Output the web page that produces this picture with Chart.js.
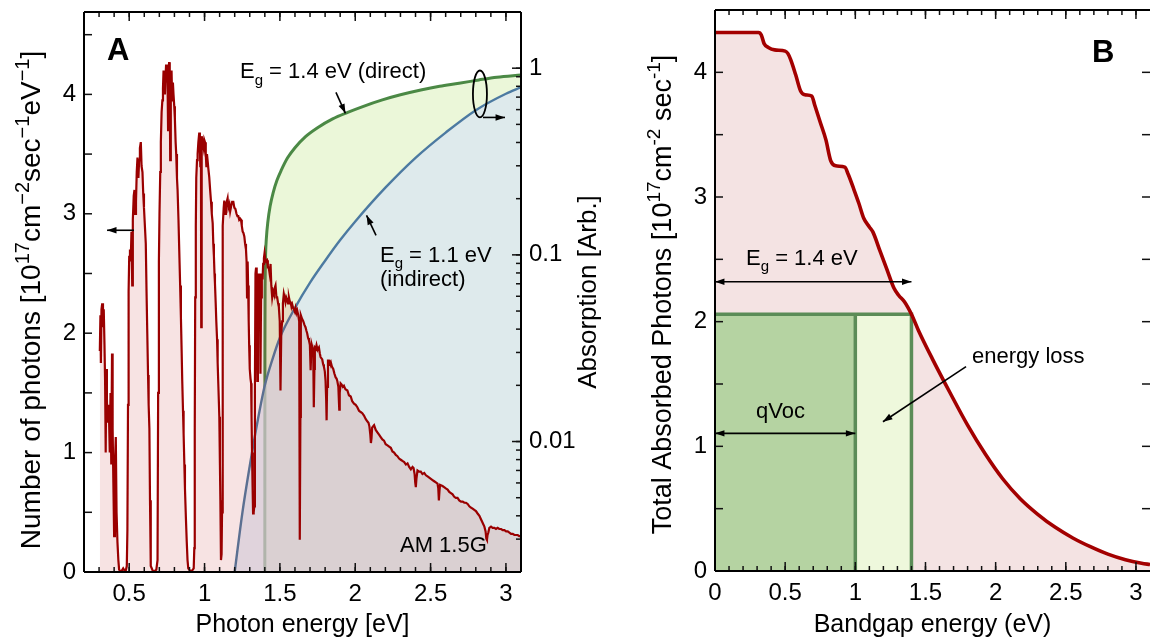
<!DOCTYPE html>
<html>
<head>
<meta charset="utf-8">
<script src="https://cdn.jsdelivr.net/npm/chart.js@4/dist/chart.umd.min.js"></script>
<style>
  html, body { margin: 0; padding: 0; background: #fff; }
  #wrap { position: relative; width: 1150px; height: 641px; overflow: hidden; }
  #wrap canvas { position: absolute; top: 0; }
  #panel-a { left: 0; width: 620px; height: 641px; }
  #panel-b { left: 620px; width: 530px; height: 641px; }
</style>
</head>
<body>
<div id="wrap">
  <canvas id="panel-a" width="620" height="641"></canvas>
  <canvas id="panel-b" width="530" height="641"></canvas>
</div>
<script>
var FONT = "'Liberation Sans', Arial, Helvetica, sans-serif";

// AM 1.5G photon flux [1e17 cm^-2 s^-1 eV^-1] against photon energy [eV]
var spectrum = [
  [0.305,1.85],[0.309,2.15],[0.312,1.75],[0.316,2.2],[0.321,2.25],[0.326,2.05],[0.331,2.2],[0.336,1.9],
  [0.340,1.6],[0.344,1.0],[0.348,1.7],[0.352,1.45],[0.356,1.25],[0.361,1.4],[0.366,1.3],[0.371,1.0],
  [0.376,1.5],[0.381,0.9],[0.386,1.83],[0.390,1.2],[0.395,0.74],[0.400,0.3],[0.405,0.9],[0.411,1.13],
  [0.416,0.5],[0.422,0.25],[0.428,0.1],[0.433,0.02],[0.445,0.0],[0.460,0.03],[0.475,0.0],[0.484,0.05],
  [0.488,0.35],[0.492,1.4],[0.496,2.35],[0.500,2.64],[0.505,2.7],[0.510,2.6],[0.515,2.85],[0.520,2.4],
  [0.524,2.95],[0.530,3.15],[0.535,3.2],[0.540,3.0],[0.545,3.1],[0.550,3.35],[0.555,3.47],[0.561,3.3],
  [0.566,3.45],[0.571,3.55],[0.577,3.6],[0.582,3.4],[0.588,3.35],[0.593,3.17],[0.598,3.05],[0.604,2.9],
  [0.610,2.75],[0.615,2.35],[0.620,2.0],[0.625,1.65],[0.629,1.4],[0.634,1.2],[0.638,0.6],[0.643,0.05],
  [0.660,0.0],[0.680,0.02],[0.688,0.1],[0.692,1.5],[0.697,2.6],[0.701,3.0],[0.706,3.35],[0.710,3.6],
  [0.715,3.85],[0.720,3.95],[0.724,4.05],[0.728,4.2],[0.733,4.05],[0.737,4.0],[0.741,4.15],[0.745,4.25],
  [0.750,4.1],[0.754,4.18],[0.758,3.7],[0.762,4.2],[0.765,4.27],[0.769,4.15],[0.772,3.45],[0.776,4.1],
  [0.781,4.2],[0.785,3.95],[0.790,4.1],[0.794,4.0],[0.799,3.9],[0.803,3.8],[0.808,3.6],[0.812,3.5],
  [0.817,3.3],[0.821,3.2],[0.827,2.95],[0.832,2.7],[0.838,2.4],[0.843,2.14],[0.848,1.85],[0.852,1.6],
  [0.857,1.35],[0.861,1.16],[0.866,0.9],[0.870,0.7],[0.876,0.46],[0.882,0.25],[0.887,0.1],[0.892,0.03],
  [0.910,0.0],[0.928,0.03],[0.932,0.2],[0.935,1.2],[0.938,2.3],[0.942,2.9],[0.945,3.3],[0.950,3.45],
  [0.954,3.5],[0.959,3.6],[0.965,3.68],[0.969,3.55],[0.972,3.4],[0.976,3.6],[0.978,2.05],[0.981,3.65],
  [0.987,3.6],[0.994,3.55],[0.998,3.62],[1.003,3.6],[1.008,3.5],[1.012,3.4],[1.016,3.5],[1.020,3.45],
  [1.025,3.38],[1.031,3.31],[1.037,3.2],[1.043,3.1],[1.048,3.0],[1.054,2.92],[1.058,2.75],[1.062,2.65],
  [1.066,2.5],[1.069,2.42],[1.074,2.25],[1.078,2.1],[1.083,1.95],[1.087,1.75],[1.092,1.55],[1.098,1.3],
  [1.102,0.9],[1.105,0.6],[1.109,0.1],[1.113,0.15],[1.116,0.5],[1.119,1.9],[1.122,2.9],[1.127,3.05],
  [1.131,3.11],[1.136,3.0],[1.142,3.05],[1.147,3.1],[1.153,3.13],[1.158,3.05],[1.165,3.08],[1.170,3.02],
  [1.176,3.06],[1.183,3.1],[1.191,3.1],[1.198,3.05],[1.205,3.04],[1.212,3.0],[1.218,2.98],[1.224,2.98],
  [1.230,2.95],[1.236,2.96],[1.242,2.95],[1.247,2.9],[1.253,2.85],[1.258,2.84],[1.264,2.81],[1.269,2.75],
  [1.275,2.7],[1.279,2.6],[1.282,2.3],[1.286,2.6],[1.289,2.4],[1.293,2.1],[1.296,1.9],[1.300,1.7],
  [1.305,1.62],[1.309,1.58],[1.312,1.3],[1.315,1.0],[1.319,0.7],[1.322,0.49],[1.326,0.5],[1.330,0.55],
  [1.334,1.5],[1.338,2.5],[1.342,2.55],[1.346,2.3],[1.350,1.6],[1.354,2.2],[1.358,2.5],[1.362,2.45],
  [1.366,2.5],[1.371,1.66],[1.375,2.3],[1.380,2.5],[1.385,2.45],[1.389,2.58],[1.394,2.63],[1.398,2.67],
  [1.403,2.62],[1.408,2.6],[1.415,2.61],[1.420,2.55],[1.426,2.55],[1.432,2.5],[1.438,2.58],[1.443,2.4],
  [1.449,2.3],[1.455,2.35],[1.460,2.33],[1.466,2.38],[1.471,2.4],[1.477,2.3],[1.482,2.3],[1.488,2.25],
  [1.493,2.22],[1.499,2.1],[1.504,1.52],[1.509,2.0],[1.515,2.1],[1.520,2.25],[1.526,2.33],[1.531,2.3],
  [1.537,2.26],[1.542,2.3],[1.548,2.28],[1.554,2.25],[1.560,2.3],[1.565,2.27],[1.571,2.26],[1.577,2.22],
  [1.582,2.24],[1.588,2.21],[1.593,2.2],[1.599,2.18],[1.604,2.21],[1.610,2.17],[1.615,2.19],[1.622,2.15],
  [1.628,2.1],[1.631,1.2],[1.633,0.27],[1.636,1.3],[1.639,2.15],[1.647,2.12],[1.655,2.1],[1.663,2.07],
  [1.670,2.05],[1.676,2.02],[1.681,2.0],[1.687,1.96],[1.693,1.94],[1.699,1.9],[1.704,1.69],[1.708,1.85],
  [1.712,1.9],[1.716,1.88],[1.721,1.87],[1.724,1.6],[1.726,1.38],[1.729,1.7],[1.732,1.88],[1.738,1.87],
  [1.743,1.9],[1.750,1.86],[1.759,1.88],[1.765,1.83],[1.770,1.8],[1.776,1.79],[1.781,1.78],[1.787,1.74],
  [1.792,1.72],[1.798,1.68],[1.803,1.6],[1.807,1.45],[1.810,1.27],[1.813,1.55],[1.819,1.77],[1.826,1.77],
  [1.832,1.75],[1.837,1.76],[1.845,1.72],[1.854,1.7],[1.862,1.66],[1.870,1.63],[1.876,1.62],[1.881,1.6],
  [1.888,1.55],[1.891,1.45],[1.894,1.36],[1.897,1.5],[1.903,1.58],[1.910,1.57],[1.918,1.55],[1.925,1.56],
  [1.935,1.53],[1.948,1.52],[1.958,1.48],[1.970,1.47],[1.980,1.43],[1.992,1.41],[2.003,1.40],[2.014,1.38],
  [2.025,1.35],[2.036,1.34],[2.047,1.33],[2.058,1.31],[2.070,1.28],[2.081,1.26],[2.088,1.25],[2.094,1.22],
  [2.100,1.15],[2.104,1.08],[2.108,1.12],[2.112,1.21],[2.118,1.22],[2.125,1.23],[2.136,1.19],[2.147,1.17],
  [2.158,1.15],[2.169,1.13],[2.180,1.11],[2.191,1.1],[2.202,1.07],[2.214,1.06],[2.225,1.05],[2.236,1.04],
  [2.247,1.01],[2.258,1.0],[2.269,0.98],[2.280,0.97],[2.291,0.95],[2.302,0.94],[2.313,0.93],[2.325,0.92],
  [2.336,0.90],[2.347,0.91],[2.358,0.88],[2.369,0.86],[2.380,0.88],[2.387,0.87],[2.394,0.82],[2.398,0.75],
  [2.402,0.71],[2.406,0.78],[2.413,0.85],[2.424,0.84],[2.435,0.84],[2.446,0.82],[2.458,0.83],[2.469,0.81],
  [2.480,0.80],[2.491,0.79],[2.502,0.78],[2.513,0.77],[2.524,0.76],[2.535,0.75],[2.546,0.74],[2.551,0.7],
  [2.555,0.6],[2.559,0.68],[2.563,0.73],[2.568,0.73],[2.579,0.72],[2.590,0.71],[2.601,0.70],[2.613,0.69],
  [2.624,0.67],[2.635,0.66],[2.646,0.65],[2.657,0.63],[2.668,0.62],[2.679,0.62],[2.690,0.60],[2.702,0.59],
  [2.713,0.59],[2.724,0.58],[2.735,0.58],[2.746,0.57],[2.757,0.55],[2.768,0.54],[2.779,0.53],[2.790,0.52],
  [2.801,0.51],[2.812,0.49],[2.824,0.47],[2.835,0.44],[2.846,0.41],[2.857,0.38],[2.865,0.34],[2.870,0.28],
  [2.874,0.27],[2.878,0.31],[2.883,0.33],[2.890,0.37],[2.901,0.38],[2.912,0.37],[2.923,0.37],[2.934,0.36],
  [2.945,0.37],[2.956,0.36],[2.968,0.36],[2.979,0.35],[2.990,0.35],[3.001,0.34],[3.012,0.34],[3.023,0.33],
  [3.034,0.32],[3.045,0.32],[3.056,0.31],[3.067,0.31],[3.078,0.31],[3.089,0.30],[3.100,0.30]
];

// absorption (arb., right log axis) of a direct 1.4 eV and an indirect 1.1 eV absorber
var directAbs = [
  [1.4,0.002],[1.4005,0.03],[1.402,0.07],[1.405,0.1],[1.41,0.122],[1.42,0.15],[1.435,0.182],[1.455,0.215],
  [1.48,0.25],[1.51,0.285],[1.55,0.33],[1.6,0.375],[1.67,0.43],[1.75,0.48],[1.85,0.535],[1.95,0.58],
  [2.05,0.623],[2.18,0.676],[2.3,0.72],[2.435,0.764],[2.56,0.8],[2.689,0.83],[2.82,0.865],[2.94,0.895],
  [3.1,0.92]
];
var indirectAbs = [
  [1.2,0.002],[1.25,0.0041],[1.3,0.0074],[1.35,0.0126],[1.4,0.02],[1.45,0.0275],[1.5,0.036],[1.6,0.052],
  [1.7,0.071],[1.8,0.093],[1.9,0.12],[2.0,0.151],[2.2,0.229],[2.4,0.331],[2.6,0.452],[2.8,0.596],
  [3.0,0.73],[3.1,0.79]
];

// total absorbed photons [1e17 cm^-2 s^-1] against bandgap energy [eV]
var absorbed = [
  [0,4.32],[0.31,4.32],[0.33,4.3],[0.35,4.23],[0.38,4.2],[0.425,4.18],[0.5,4.17],[0.52,4.15],[0.54,4.1],
  [0.575,3.98],[0.61,3.85],[0.64,3.82],[0.69,3.81],[0.71,3.74],[0.75,3.6],[0.79,3.46],[0.825,3.29],
  [0.86,3.25],[0.925,3.24],[0.95,3.18],[0.99,3.06],[1.025,2.95],[1.06,2.83],[1.1,2.76],[1.125,2.72],
  [1.175,2.57],[1.225,2.42],[1.275,2.27],[1.31,2.21],[1.35,2.16],[1.4,2.06],[1.45,1.93],[1.55,1.7],
  [1.675,1.43],[1.8,1.17],[1.925,0.94],[2.05,0.74],[2.175,0.58],[2.3,0.455],[2.425,0.35],[2.55,0.265],
  [2.675,0.195],[2.8,0.135],[2.925,0.09],[3.04,0.062],[3.1,0.052]
];

// 1.4 eV cell: photons collected, split into qVoc and energy loss
var cellEg = 1.4, cellVoc = 1.0, cellPhotons = 2.06;

// tick labels
var photonTicks = [0.5, 1, 1.5, 2, 2.5, 3];
var fluxTicks = [0, 1, 2, 3, 4];
var absTicks = [0.01, 0.1, 1];
var gapTicks = [0, 0.5, 1, 1.5, 2, 2.5, 3];
var totalTicks = [0, 1, 2, 3, 4];

Chart.defaults.font.family = FONT;
Chart.defaults.color = '#000';

function toXY(pairs) {
  return pairs.map(function (p) { return { x: p[0], y: p[1] }; });
}

function steps(from, to, step) {
  var out = [];
  for (var i = Math.ceil(from / step - 1e-6); i * step <= to + 1e-6; i++) {
    out.push(Math.round(i * step * 1000) / 1000);
  }
  return out;
}

function logSteps(min, max) {
  var out = [];
  for (var d = 0.001; d <= max; d *= 10) {
    for (var m = 1; m < 10; m++) {
      var v = m * d;
      if (v >= min * 0.999 && v <= max * 1.001) out.push(v);
    }
  }
  return out;
}

// axis with fixed labels and a fixed box size so both panels line up
function axis(extra, labels, size) {
  var horizontal = extra.position === 'bottom';
  return Object.assign({
    grid: { display: false, drawTicks: false },
    border: { display: false },
    ticks: { font: { size: 24 }, color: '#000', padding: 8, maxRotation: 0, autoSkip: false,
      callback: function (v) { return String(v); } },
    afterBuildTicks: function (s) { s.ticks = labels.map(function (v) { return { value: v }; }); },
    afterFit: function (s) {
      if (horizontal) s.height = size; else s.width = size;
      // labels may overhang the plot edges, keep the plot box where it is
      s.paddingTop = s.paddingBottom = s.paddingLeft = s.paddingRight = 0;
    }
  }, extra);
}

// frame and inward tick marks
function frame(sides, marks) {
  return {
    id: 'frame',
    afterDatasetsDraw: function (chart) {
      var ctx = chart.ctx, a = chart.chartArea;
      ctx.save();
      ctx.strokeStyle = '#111';
      ctx.lineWidth = 1.5;
      marks.forEach(function (m) {
        var s = chart.scales[m.axis];
        m.values.forEach(function (v) {
          var p = s.getPixelForValue(v);
          m.sides.forEach(function (side) {
            ctx.beginPath();
            if (side === 'bottom' || side === 'top') {
              if (p < a.left + 1 || p > a.right - 1) return;
              var y0 = side === 'bottom' ? a.bottom : a.top;
              ctx.moveTo(p, y0);
              ctx.lineTo(p, side === 'bottom' ? y0 - m.len : y0 + m.len);
            } else {
              if (p < a.top + 1 || p > a.bottom - 1) return;
              var x0 = side === 'left' ? a.left : a.right;
              ctx.moveTo(x0, p);
              ctx.lineTo(side === 'left' ? x0 + m.len : x0 - m.len, p);
            }
            ctx.stroke();
          });
        });
      });
      ctx.lineWidth = 2;
      ctx.strokeStyle = '#000';
      ctx.beginPath();
      if (sides.indexOf('left') > -1) { ctx.moveTo(a.left, a.top); ctx.lineTo(a.left, a.bottom); }
      if (sides.indexOf('bottom') > -1) { ctx.moveTo(a.left, a.bottom); ctx.lineTo(a.right, a.bottom); }
      if (sides.indexOf('top') > -1) { ctx.moveTo(a.left, a.top); ctx.lineTo(a.right, a.top); }
      if (sides.indexOf('right') > -1) { ctx.moveTo(a.right, a.top); ctx.lineTo(a.right, a.bottom); }
      ctx.stroke();
      ctx.restore();
    }
  };
}

// text with sub/superscript pieces: [[text], [text, 'sub'|'sup'], ...]
function richText(ctx, parts, x, y, size, align) {
  var small = Math.round(size * 0.7), widths = [], total = 0;
  parts.forEach(function (p) {
    ctx.font = (p[1] ? small : size) + 'px ' + FONT;
    var w = ctx.measureText(p[0]).width;
    widths.push(w);
    total += w;
  });
  var cx = align === 'center' ? x - total / 2 : x;
  ctx.textAlign = 'left';
  ctx.textBaseline = 'alphabetic';
  parts.forEach(function (p, i) {
    ctx.font = (p[1] ? small : size) + 'px ' + FONT;
    var dy = p[1] === 'sup' ? -size * 0.4 : (p[1] === 'sub' ? size * 0.28 : 0);
    ctx.fillText(p[0], cx, y + dy);
    cx += widths[i];
  });
}

function verticalText(ctx, parts, x, y, size) {
  ctx.save();
  ctx.translate(x, y);
  ctx.rotate(-Math.PI / 2);
  richText(ctx, parts, 0, 0, size, 'center');
  ctx.restore();
}

function arrow(ctx, x1, y1, x2, y2, both) {
  var head = 10, spread = 0.33, ang = Math.atan2(y2 - y1, x2 - x1);
  function tip(x, y, a) {
    ctx.beginPath();
    ctx.moveTo(x, y);
    ctx.lineTo(x - head * Math.cos(a - spread), y - head * Math.sin(a - spread));
    ctx.lineTo(x - head * Math.cos(a + spread), y - head * Math.sin(a + spread));
    ctx.closePath();
    ctx.fill();
  }
  ctx.lineWidth = 1.6;
  ctx.beginPath();
  ctx.moveTo(x1, y1);
  ctx.lineTo(x2, y2);
  ctx.stroke();
  tip(x2, y2, ang);
  if (both) tip(x1, y1, ang + Math.PI);
}

var noLine = { borderColor: 'rgba(0,0,0,0)', borderWidth: 0 };

// panel A: AM 1.5G spectrum and absorption edges
new Chart(document.getElementById('panel-a'), {
  type: 'line',
  data: {
    datasets: [{
      label: 'AM 1.5G',
      data: toXY(spectrum),
      yAxisID: 'y',
      borderColor: '#9a0000',
      borderWidth: 2.2,
      backgroundColor: 'rgba(190, 40, 40, 0.13)',
      fill: 'start',
      order: 0
    }, {
      label: 'indirect',
      data: toXY(indirectAbs),
      yAxisID: 'yAbs',
      borderColor: '#4c7aa1',
      borderWidth: 2.4,
      backgroundColor: 'rgba(216, 228, 244, 0.7)',
      fill: 'start',
      cubicInterpolationMode: 'monotone',
      order: 1
    }, {
      label: 'direct',
      data: toXY(directAbs),
      yAxisID: 'yAbs',
      borderColor: '#4b8945',
      borderWidth: 3,
      backgroundColor: '#ebf7d9',
      fill: 'start',
      cubicInterpolationMode: 'monotone',
      order: 2
    }]
  },
  options: {
    responsive: false,
    animation: false,
    devicePixelRatio: 1,
    layout: { autoPadding: false, padding: { top: 12, left: 0, right: 0, bottom: 0 } },
    elements: { point: { radius: 0 }, line: { tension: 0 } },
    plugins: { legend: { display: false }, tooltip: { enabled: false } },
    scales: {
      x: axis({ type: 'linear', position: 'bottom', min: 0.2, max: 3.1 }, photonTicks, 69),
      y: axis({ type: 'linear', position: 'left', min: 0, max: 4.69 }, fluxTicks, 84),
      yAbs: axis({ type: 'logarithmic', position: 'right', min: 0.002, max: 2 }, absTicks, 99)
    }
  },
  plugins: [frame(['left', 'right', 'top', 'bottom'], [
    { axis: 'x', sides: ['bottom', 'top'], values: steps(0.2, 3.1, 0.1), len: 5 },
    { axis: 'x', sides: ['bottom', 'top'], values: steps(0.5, 3, 0.5), len: 9 },
    { axis: 'y', sides: ['left'], values: steps(0, 4.5, 0.5), len: 8 },
    { axis: 'yAbs', sides: ['right'], values: logSteps(0.002, 2), len: 5 },
    { axis: 'yAbs', sides: ['right'], values: absTicks, len: 9 }
  ]), {
    id: 'notesA',
    afterDraw: function (chart) {
      var ctx = chart.ctx, a = chart.chartArea, sx = chart.scales.x, sy = chart.scales.y;
      function X(e) { return sx.getPixelForValue(e); }
      function Y(v) { return sy.getPixelForValue(v); }
      ctx.save();
      ctx.fillStyle = '#000';
      ctx.strokeStyle = '#000';
      ctx.font = 'bold 31px ' + FONT;
      ctx.textAlign = 'left';
      ctx.fillText('A', X(0.353), Y(4.285));
      richText(ctx, [['E'], ['g', 'sub'], [' = 1.4 eV (direct)']], X(1.235), Y(4.134), 22);
      arrow(ctx, X(1.872), Y(4.017), X(1.935), Y(3.841));
      richText(ctx, [['E'], ['g', 'sub'], [' = 1.1 eV']], X(2.164), Y(2.594), 22);
      richText(ctx, [['(indirect)']], X(2.164), Y(2.393), 22);
      arrow(ctx, X(2.138), Y(2.82), X(2.075), Y(2.987));
      richText(ctx, [['AM 1.5G']], X(2.297), Y(0.167), 22);
      // left arrow points at the photon axis
      arrow(ctx, X(0.532), Y(2.862), X(0.353), Y(2.862));
      // ring round the absorption curves, arrow to the right axis
      ctx.lineWidth = 1.8;
      ctx.beginPath();
      ctx.ellipse((X(2.781) + X(2.874)) / 2, (Y(4.2) + Y(3.807)) / 2,
        (X(2.874) - X(2.781)) / 2, (Y(3.807) - Y(4.2)) / 2, 0, 0, 2 * Math.PI);
      ctx.stroke();
      arrow(ctx, X(2.848), Y(3.807), X(2.994), Y(3.807));
      // axis titles
      richText(ctx, [['Photon energy [eV]']], (a.left + a.right) / 2, a.bottom + 60, 25, 'center');
      verticalText(ctx, [['Number of photons [10'], ['17', 'sup'], ['cm'], ['\u22122', 'sup'],
        ['sec'], ['\u22121', 'sup'], ['eV'], ['\u22121', 'sup'], [']']], a.left - 44, (a.top + a.bottom) / 2 + 8, 28);
      verticalText(ctx, [['Absorption [Arb.]']], a.right + 75, (a.top + a.bottom) / 2, 26);
      ctx.restore();
    }
  }]
});

// panel B: absorbed photons against bandgap
new Chart(document.getElementById('panel-b'), {
  type: 'line',
  data: {
    datasets: [{
      label: 'absorbed',
      data: toXY(absorbed),
      borderColor: '#a30000',
      borderWidth: 3.6,
      fill: false,
      cubicInterpolationMode: 'monotone',
      order: 0
    }, {
      label: 'cell outline',
      data: toXY([[0, cellPhotons], [cellEg, cellPhotons], [cellEg, 0]]),
      borderColor: '#5b8c57',
      borderWidth: 3.5,
      fill: false,
      order: 1
    }, {
      label: 'qVoc edge',
      data: toXY([[cellVoc, 0], [cellVoc, cellPhotons]]),
      borderColor: '#5b8c57',
      borderWidth: 3.5,
      fill: false,
      order: 1
    }, Object.assign({
      label: 'qVoc',
      data: toXY([[0, cellPhotons], [cellVoc, cellPhotons]]),
      backgroundColor: '#b5d3a2',
      fill: 'start',
      order: 2
    }, noLine), Object.assign({
      label: 'energy loss',
      data: toXY([[cellVoc, cellPhotons], [cellEg, cellPhotons]]),
      backgroundColor: '#eef8dc',
      fill: 'start',
      order: 2
    }, noLine), Object.assign({
      label: 'absorbed area',
      data: toXY(absorbed),
      backgroundColor: '#f4e3e3',
      fill: 'start',
      cubicInterpolationMode: 'monotone',
      order: 3
    }, noLine)]
  },
  options: {
    responsive: false,
    animation: false,
    devicePixelRatio: 1,
    layout: { autoPadding: false, padding: { top: 10, left: 0, right: 0, bottom: 0 } },
    elements: { point: { radius: 0 }, line: { tension: 0 } },
    plugins: { legend: { display: false }, tooltip: { enabled: false } },
    scales: {
      x: axis({ type: 'linear', position: 'bottom', min: 0, max: 3.1 }, gapTicks, 70),
      y: axis({ type: 'linear', position: 'left', min: 0, max: 4.5 }, totalTicks, 95)
    }
  },
  plugins: [frame(['left', 'top', 'bottom'], [
    { axis: 'x', sides: ['bottom', 'top'], values: steps(0, 3.1, 0.1), len: 5 },
    { axis: 'x', sides: ['bottom', 'top'], values: steps(0, 3, 0.5), len: 9 },
    { axis: 'y', sides: ['left', 'right'], values: steps(0, 4.5, 0.5), len: 8 }
  ]), {
    id: 'notesB',
    afterDraw: function (chart) {
      var ctx = chart.ctx, a = chart.chartArea, sx = chart.scales.x, sy = chart.scales.y;
      function X(e) { return sx.getPixelForValue(e); }
      function Y(v) { return sy.getPixelForValue(v); }
      ctx.save();
      ctx.fillStyle = '#000';
      ctx.strokeStyle = '#000';
      ctx.font = 'bold 31px ' + FONT;
      ctx.textAlign = 'left';
      ctx.fillText('B', X(2.687), Y(4.08));
      richText(ctx, [['E'], ['g', 'sub'], [' = 1.4 eV']], X(0.221), Y(2.458), 22);
      arrow(ctx, X(0), Y(2.32), X(cellEg), Y(2.32), true);
      richText(ctx, [['qVoc']], X(0.292), Y(1.229), 22);
      arrow(ctx, X(0), Y(1.104), X(cellVoc), Y(1.104), true);
      richText(ctx, [['energy loss']], X(1.832), Y(1.671), 22);
      arrow(ctx, X(1.789), Y(1.639), X(1.197), Y(1.197));
      richText(ctx, [['Bandgap energy (eV)']], (a.left + 530) / 2, a.bottom + 61, 25, 'center');
      verticalText(ctx, [['Total Absorbed Photons [10'], ['17', 'sup'], ['cm'], ['-2', 'sup'],
        [' sec'], ['-1', 'sup'], [']']], a.left - 44, (a.top + a.bottom) / 2 + 4, 27);
      ctx.restore();
    }
  }]
});
</script>
</body>
</html>
